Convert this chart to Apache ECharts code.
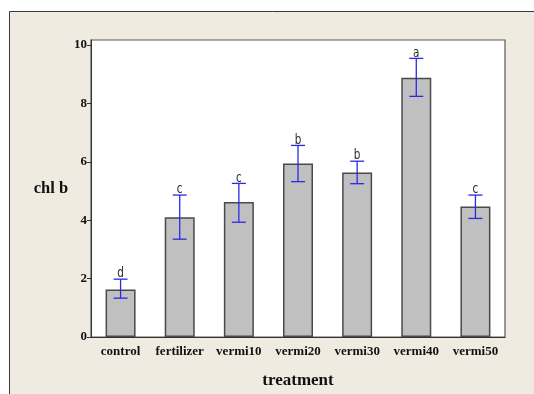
<!DOCTYPE html>
<html><head><meta charset="utf-8">
<script src="https://cdn.jsdelivr.net/npm/echarts@6/dist/echarts.min.js"></script>
<style>html,body{margin:0;padding:0;background:#fff}#c{width:534px;height:394px}</style>
</head><body><div id="c"></div>
<script>
const categories = ['control','fertilizer','vermi10','vermi20','vermi30','vermi40','vermi50'];
const means = [1.63, 4.10, 4.62, 5.94, 5.63, 8.88, 4.47];
const errLow = [1.33, 3.35, 3.93, 5.32, 5.25, 8.24, 4.06];
const errHigh = [1.98, 4.86, 5.26, 6.56, 6.02, 9.54, 4.86];
const letters = ['d','c','c','b','b','a','c'];
const yTicks = [0, 2, 4, 6, 8, 10];

const serif = 'Liberation Serif';
const chart = echarts.init(document.getElementById('c'), null, {renderer:'canvas'});
chart.setOption({
  backgroundColor: '#ffffff',
  animation: false,
  graphic: [{
    type: 'rect', z: -10,
    shape: {x: 9.5, y: 11.5, width: 700, height: 700},
    style: {fill: '#efebe1', stroke: '#3a3a3a', lineWidth: 1}
  }],
  grid: {left: 91, right: 29, top: 40, bottom: 57, show: true, backgroundColor: '#ffffff', borderColor: '#5a5a5a', borderWidth: 1.2},
  xAxis: {
    type: 'category', data: categories,
    name: 'treatment', nameLocation: 'middle', nameGap: 35,
    nameTextStyle: {fontFamily: serif, fontWeight: 'bold', fontSize: 17, color: '#111'},
    axisLine: {lineStyle: {color: '#333', width: 1}},
    axisTick: {alignWithLabel: true, length: 4, lineStyle: {color: '#555'}},
    axisLabel: {fontFamily: serif, fontWeight: 'bold', fontSize: 13, color: '#111', margin: 8, interval: 0}
  },
  yAxis: {
    type: 'value', min: 0, max: 10.17,
    name: 'chl b', nameLocation: 'middle', nameRotate: 0, nameGap: 21,
    nameTextStyle: {fontFamily: serif, fontWeight: 'bold', fontSize: 16.5, color: '#111'},
    splitLine: {show: false},
    axisLine: {show: true, lineStyle: {color: '#333', width: 1}},
    axisTick: {show: true, length: 4, customValues: yTicks, lineStyle: {color: '#333'}},
    axisLabel: {customValues: yTicks, fontFamily: serif, fontWeight: 'bold', fontSize: 13, color: '#111', margin: 4}
  },
  series: [{
    type: 'bar', data: means, barWidth: 30,
    itemStyle: {color: '#c0c0c0', borderColor: '#4a4a4a', borderWidth: 1.5},
    z: 2
  }, {
    type: 'custom', z: 5,
    data: categories.map((c, i) => [i, errLow[i], errHigh[i]]),
    renderItem: function (params, api) {
      const x = api.value(0);
      const hi = api.coord([x, api.value(2)]);
      const lo = api.coord([x, api.value(1)]);
      const hw = 7;
      const st = {stroke: '#2a2ae6', lineWidth: 1.3};
      return {type: 'group', children: [
        {type: 'line', shape: {x1: hi[0], y1: hi[1], x2: lo[0], y2: lo[1]}, style: st},
        {type: 'line', shape: {x1: hi[0]-hw, y1: hi[1], x2: hi[0]+hw, y2: hi[1]}, style: st},
        {type: 'line', shape: {x1: lo[0]-hw, y1: lo[1], x2: lo[0]+hw, y2: lo[1]}, style: st},
        {type: 'text', x: hi[0], y: hi[1] + 2, scaleX: 0.72, style: {text: letters[params.dataIndex], align: 'center', verticalAlign: 'bottom', fontFamily: 'DejaVu Sans', fontSize: 14.5, fill: '#2a2a2a'}}
      ]};
    }
  }]
});
</script></body></html>
